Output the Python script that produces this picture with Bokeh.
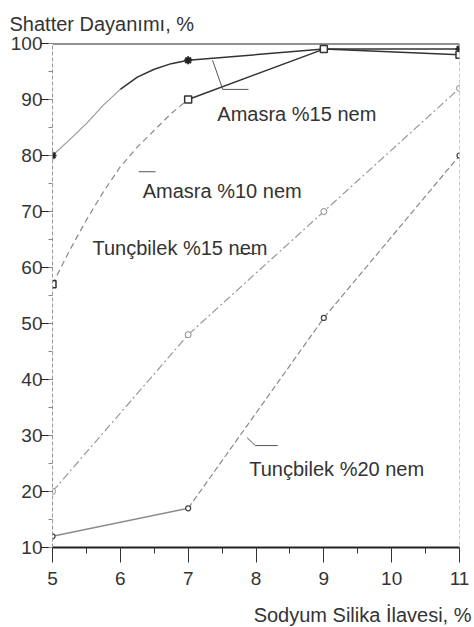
from bokeh.plotting import figure
from bokeh.models import Range1d, FixedTicker, Label, Span, Title
from bokeh.embed import file_html
from bokeh.resources import INLINE

# ---- data ----
x_pts = [5, 7, 9, 11]
amasra15 = [80, 97, 99, 99]
amasra10 = [57, 90, 99, 98]
tunc15 = [20, 48, 70, 92]
tunc20 = [12, 17, 51, 80]

# traced curve points (smoothed curves in the original)
amasra15_curve_x = [5, 5.25, 5.5, 5.75, 6, 6.25, 6.5, 6.75, 7]
amasra15_curve_y = [80, 82.8, 85.7, 89, 91.8, 94, 95.4, 96.4, 97]
amasra10_curve_x = [5, 5.25, 5.5, 5.75, 6, 6.25, 6.5, 6.75, 7]
amasra10_curve_y = [57, 63, 68.5, 73.5, 78, 81.5, 84.5, 87.5, 90]

y_ticks = [10, 20, 30, 40, 50, 60, 70, 80, 90, 100]
x_ticks = [5, 6, 7, 8, 9, 10, 11]

series_names = ["Amasra %15 nem", "Amasra %10 nem", "Tunçbilek %15 nem", "Tunçbilek %20 nem"]
name_pos = [(7.43, 87.5), (6.33, 73.75), (5.59, 63.4), (7.90, 24.1)]
leaders = [
    ([7.36, 7.51, 7.89], [97, 91.8, 91.8]),
    ([6.27, 6.52], [77.1, 77.1]),
    ([7.74, 8.02], [62.5, 62.5]),
    ([7.87, 7.99, 8.32], [29.6, 28.2, 28.2]),
]
y_title = "Shatter Dayanımı, %"
x_title = "Sodyum Silika İlavesi, %"

FONT = "Liberation Sans"
TXT = "#333333"

p = figure(width=472, height=626, output_backend="svg", toolbar_location=None,
           x_range=Range1d(5, 11), y_range=Range1d(10, 100),
           min_border_left=52, min_border_top=43, min_border_right=13, min_border_bottom=79,
           title=None)
p.outline_line_color = None
p.xgrid.grid_line_color = None
p.ygrid.grid_line_color = None
p.background_fill_color = "white"
p.border_fill_color = "white"

# y-axis title above the frame
p.add_layout(Title(text=y_title, align="left", offset=-43, text_font=FONT,
                   text_font_size="20px", text_color=TXT, text_font_style="normal",
                   standoff=18), "above")

# blank axis label used only as vertical spacing before the x title
p.xaxis.axis_label = " "
p.xaxis.axis_label_text_font_size = "1px"
p.xaxis.axis_label_standoff = 15

# x-axis title, right-aligned under the axis
p.add_layout(Title(text=x_title, align="right", offset=-12, text_font=FONT,
                   text_font_size="20px", text_color=TXT, text_font_style="normal",
                   standoff=-10), "below")

# axes
p.yaxis.ticker = FixedTicker(ticks=y_ticks, minor_ticks=list(range(5, 101, 5)))
p.xaxis.ticker = FixedTicker(ticks=x_ticks, minor_ticks=[5 + 0.5 * i for i in range(13)])
for ax in (p.xaxis, p.yaxis):
    ax.major_label_text_font = FONT
    ax.major_label_text_font_size = "19px"
    ax.major_label_text_color = TXT
    ax.major_tick_in = 0
    ax.minor_tick_in = 0
p.yaxis.major_tick_out = 12
p.yaxis.minor_tick_out = 4
p.yaxis.major_label_standoff = -2
p.yaxis.axis_line_color = "#999999"
p.yaxis.axis_line_dash = "4 2"
p.yaxis.major_tick_line_color = "#222222"
p.yaxis.minor_tick_line_color = "#888888"
p.xaxis.major_tick_out = 15
p.xaxis.minor_tick_out = 6
p.xaxis.major_label_standoff = 9
p.xaxis.axis_line_color = "#222222"
p.xaxis.axis_line_width = 2
p.xaxis.major_tick_line_color = "#333333"
p.xaxis.minor_tick_line_color = "#333333"

# frame top and right
p.add_layout(Span(location=100, dimension="width", line_color="#222222", line_width=2))
p.add_layout(Span(location=11, dimension="height", line_color="#999999", line_width=1, line_dash="4 2"))

# Amasra %15 nem
p.line(amasra15_curve_x[:5], amasra15_curve_y[:5], line_color="#9a9a9a", line_width=1.2)
p.line(amasra15_curve_x[4:], amasra15_curve_y[4:], line_color="#333333", line_width=1.5)
p.line(x_pts[1:], amasra15[1:], line_color="#333333", line_width=1.5)
p.scatter(x_pts, amasra15, marker="asterisk", size=8, line_color="#222222", line_width=2)

# Amasra %10 nem
p.line(amasra10_curve_x, amasra10_curve_y, line_color="#8a8a8a", line_width=1.2, line_dash="6 4")
p.line(x_pts[1:], amasra10[1:], line_color="#333333", line_width=1.5)
p.scatter(x_pts, amasra10, marker="square", size=7, line_color="#333333", fill_color="white", line_width=1.5)

# Tunçbilek %15 nem
p.line(x_pts, tunc15, line_color="#999999", line_width=1.2, line_dash="8 3 2 3")
p.scatter(x_pts, tunc15, marker="circle", size=6, line_color="#8a8a8a", fill_color="white", line_width=1)

# Tunçbilek %20 nem
p.line(x_pts[:2], tunc20[:2], line_color="#8a8a8a", line_width=1.5)
p.line(x_pts[1:], tunc20[1:], line_color="#8a8a8a", line_width=1.2, line_dash="6 3")
p.scatter(x_pts, tunc20, marker="circle", size=5, line_color="#444444", fill_color="white", line_width=1.2)

# series names and leader lines
for name, (lx, ly), (ax_, ay_) in zip(series_names, name_pos, leaders):
    p.line(ax_, ay_, line_color="#555555", line_width=1)
    p.add_layout(Label(x=lx, y=ly, text=name, text_font=FONT, text_font_size="20px",
                       text_color=TXT, text_baseline="alphabetic", text_align="left"))

open("out.html", "w").write(file_html(p, INLINE))
